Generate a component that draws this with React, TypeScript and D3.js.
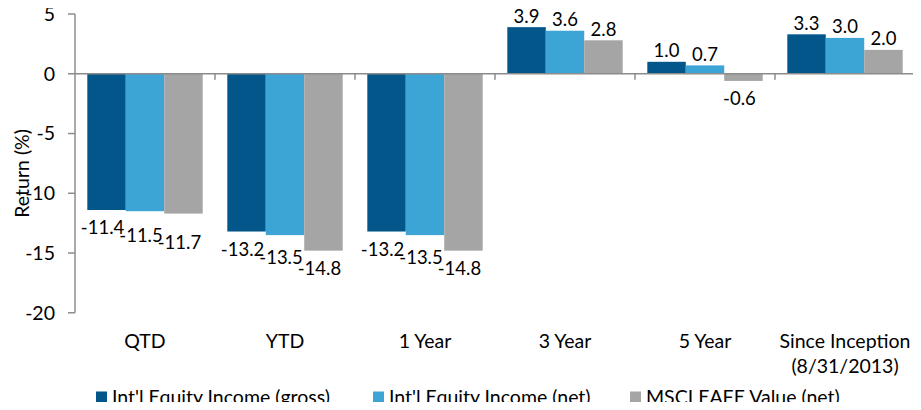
import React from "react";
import * as d3 from "d3";

const categories: string[][] = [["QTD"], ["YTD"], ["1 Year"], ["3 Year"], ["5 Year"], ["Since Inception", "(8/31/2013)"]];
const seriesNames = ["Int'l Equity Income (gross)", "Int'l Equity Income (net)", "MSCI EAFE Value (net)"];
const grossValues = [-11.4, -13.2, -13.2, 3.9, 1.0, 3.3];
const netValues = [-11.5, -13.5, -13.5, 3.6, 0.7, 3.0];
const indexValues = [-11.7, -14.8, -14.8, 2.8, -0.6, 2.0];
const yTicks = [5, 0, -5, -10, -15, -20];
const colors = ["#02568A", "#3DA5D6", "#A5A5A5"];

const W = 921;
const H = 410;
const FONT = "Lato, 'Open Sans', sans-serif";
const FS = 19.5;
const LFS = 18.5;

export default function App() {
  const series = [grossValues, netValues, indexValues];
  const catKeys = categories.map((c) => c.join(" "));
  const x = d3.scaleBand<string>().domain(catKeys).range([75, 915]).padding(0);
  const xi = d3
    .scaleBand<string>()
    .domain(seriesNames)
    .range([0, x.bandwidth()])
    .paddingInner(0)
    .paddingOuter(0.32);
  const y = d3.scaleLinear().domain([-20, 5]).range([312.8, 14]);
  const axisColor = "#8C8C8C";
  const legendX = [96, 373, 630];

  // data label placement, with simple downward stagger for negative labels
  const labels: { x: number; y: number; text: string; key: string }[] = [];
  catKeys.forEach((k, ci) => {
    let prevNeg: number | null = null;
    series.forEach((vals, si) => {
      const v = vals[ci];
      const cx = (x(k) as number) + (xi(seriesNames[si]) as number) + xi.bandwidth() / 2;
      let cy: number;
      if (v >= 0) {
        cy = y(v) - 11;
        prevNeg = null;
      } else {
        cy = y(v) + 18;
        if (prevNeg !== null && cy < prevNeg + 7.5) cy = prevNeg + 7.5;
        prevNeg = cy;
      }
      labels.push({ x: v < 0 ? cx - 4 : cx, y: cy, text: v.toFixed(1), key: `l${si}-${ci}` });
    });
  });

  return (
    <div style={{ margin: -8 }}>
      <svg width={W} height={H} style={{ display: "block", background: "#fff" }} fontFamily={FONT}>
        {series.map((vals, si) =>
          vals.map((v, ci) => {
            const bx = (x(catKeys[ci]) as number) + (xi(seriesNames[si]) as number);
            const y0 = y(0);
            const y1 = y(v);
            return (
              <rect
                key={`b${si}-${ci}`}
                x={bx}
                y={Math.min(y0, y1)}
                width={xi.bandwidth()}
                height={Math.abs(y1 - y0)}
                fill={colors[si]}
              />
            );
          })
        )}
        <line x1={75} x2={75} y1={y(5)} y2={y(-20)} stroke={axisColor} strokeWidth={1.5} />
        {yTicks.map((t) => (
          <g key={`yt${t}`}>
            <line x1={68} x2={75} y1={y(t)} y2={y(t)} stroke={axisColor} strokeWidth={1.5} />
            <text x={55} y={y(t)} dy="0.35em" textAnchor="end" fontSize={FS} fill="#000">
              {t}
            </text>
          </g>
        ))}
        <line x1={75} x2={915} y1={y(0)} y2={y(0)} stroke={axisColor} strokeWidth={1.5} />
        {catKeys.map((k, i) => (
          <line
            key={`xt${i}`}
            x1={(x(k) as number) + x.bandwidth()}
            x2={(x(k) as number) + x.bandwidth()}
            y1={y(0)}
            y2={y(0) + 6}
            stroke={axisColor}
            strokeWidth={1.5}
          />
        ))}
        {labels.map((l) => (
          <text key={l.key} x={l.x} y={l.y} dy="0.35em" textAnchor="middle" fontSize={LFS} fill="#000">
            {l.text}
          </text>
        ))}
        {categories.map((lines, i) => (
          <text
            key={`c${i}`}
            x={(x(catKeys[i]) as number) + x.bandwidth() / 2}
            y={341}
            textAnchor="middle"
            fontSize={FS}
            fill="#000"
          >
            {lines.map((ln, j) => (
              <tspan key={j} x={(x(catKeys[i]) as number) + x.bandwidth() / 2} dy={j === 0 ? "0.35em" : 25}>
                {ln}
              </tspan>
            ))}
          </text>
        ))}
        <text
          transform={`translate(22, ${(y(5) + y(-20)) / 2 + 10}) rotate(-90)`}
          textAnchor="middle"
          dy="0.35em"
          fontSize={FS}
          fill="#000"
        >
          Return (%)
        </text>
        {seriesNames.map((name, i) => (
          <g key={`lg${i}`} transform={`translate(${legendX[i]}, 397)`}>
            <rect x={0} y={-5.5} width={11} height={11} fill={colors[i]} />
            <text x={16} y={0} dy="0.35em" fontSize={FS} fill="#000">
              {name}
            </text>
          </g>
        ))}
      </svg>
    </div>
  );
}
